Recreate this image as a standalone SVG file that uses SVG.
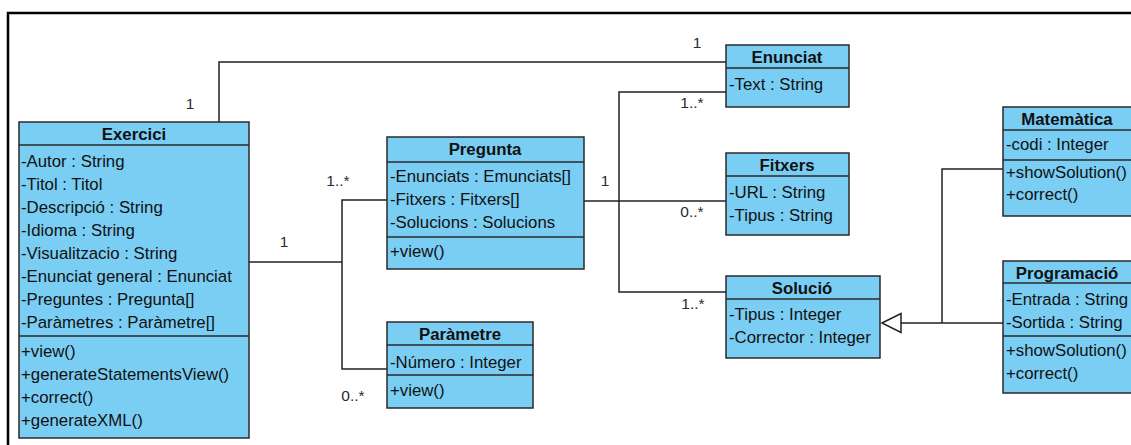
<svg xmlns="http://www.w3.org/2000/svg" width="1131" height="445" viewBox="0 0 1131 445">
  <style>
    .box { fill: #7acdf3; stroke: #2a2a2a; stroke-width: 1.5; }
    .sep { stroke: #2a2a2a; stroke-width: 1.5; }
    .title { font-family: "Liberation Sans", Arial, sans-serif; font-size: 16.8px; font-weight: bold; fill: #111; text-anchor: middle; }
    .item { font-family: "Liberation Sans", Arial, sans-serif; font-size: 16.8px; fill: #111; }
    .mult { font-family: "Liberation Sans", Arial, sans-serif; font-size: 15.5px; fill: #2b2b2b; text-anchor: middle; }
    .edge { fill: none; stroke: #222; stroke-width: 1.5; }
  </style>

  <rect width="1131" height="445" fill="#ffffff"/>
  <!-- diagram frame -->
  <rect x="8" y="13" width="1200" height="500" fill="none" stroke="#000" stroke-width="2.5"/>

  <g id="connectors">
    <!-- Exercici - Enunciat -->
    <polyline class="edge" points="219,122 219,62 726,62"/>
    <!-- Pregunta - Enunciat / Fitxers / Solució -->
    <polyline class="edge" points="726,92 619,92 619,292 726,292"/>
    <line class="edge" x1="584" y1="201" x2="726" y2="201"/>
    <!-- Exercici - Pregunta / Paràmetre -->
    <line class="edge" x1="249" y1="262" x2="342" y2="262"/>
    <polyline class="edge" points="387,200 342,200 342,369 387,369"/>
    <!-- generalization to Solució -->
    <polyline class="edge" points="1003,169 942,169 942,323"/>
    <line class="edge" x1="1003" y1="323" x2="901" y2="323"/>
    <polygon points="882,323 901,313.5 901,332.5" fill="#fff" stroke="#222" stroke-width="1.5"/>

    <text class="mult" x="190" y="109">1</text>
    <text class="mult" x="697" y="48">1</text>
    <text class="mult" x="692" y="108">1..*</text>
    <text class="mult" x="605" y="186">1</text>
    <text class="mult" x="692" y="217">0..*</text>
    <text class="mult" x="693" y="309">1..*</text>
    <text class="mult" x="338" y="186">1..*</text>
    <text class="mult" x="284" y="247">1</text>
    <text class="mult" x="353" y="401">0..*</text>
  </g>

  <g id="exercici">
    <rect class="box" x="19" y="122" width="230" height="316"/>
    <line class="sep" x1="19" y1="145" x2="249" y2="145"/>
    <line class="sep" x1="19" y1="336" x2="249" y2="336"/>
    <text class="title" x="134" y="140">Exercici</text>
    <text class="item" x="21" y="167">-Autor : String</text>
    <text class="item" x="21" y="190">-Titol : Titol</text>
    <text class="item" x="21" y="213">-Descripció : String</text>
    <text class="item" x="21" y="236">-Idioma : String</text>
    <text class="item" x="21" y="259">-Visualitzacio : String</text>
    <text class="item" x="21" y="282">-Enunciat general : Enunciat</text>
    <text class="item" x="21" y="305">-Preguntes : Pregunta[]</text>
    <text class="item" x="21" y="328">-Paràmetres : Paràmetre[]</text>
    <text class="item" x="21" y="357">+view()</text>
    <text class="item" x="21" y="380">+generateStatementsView()</text>
    <text class="item" x="21" y="403">+correct()</text>
    <text class="item" x="21" y="426">+generateXML()</text>
  </g>

  <g id="pregunta">
    <rect class="box" x="387" y="137" width="197" height="132"/>
    <line class="sep" x1="387" y1="162" x2="584" y2="162"/>
    <line class="sep" x1="387" y1="237" x2="584" y2="237"/>
    <text class="title" x="485" y="155">Pregunta</text>
    <text class="item" x="390" y="182">-Enunciats : Emunciats[]</text>
    <text class="item" x="390" y="205">-Fitxers : Fitxers[]</text>
    <text class="item" x="390" y="228">-Solucions : Solucions</text>
    <text class="item" x="390" y="257">+view()</text>
  </g>

  <g id="parametre">
    <rect class="box" x="387" y="322" width="146" height="86"/>
    <line class="sep" x1="387" y1="345" x2="533" y2="345"/>
    <line class="sep" x1="387" y1="375" x2="533" y2="375"/>
    <text class="title" x="460" y="340">Paràmetre</text>
    <text class="item" x="390" y="368">-Número : Integer</text>
    <text class="item" x="390" y="396">+view()</text>
  </g>

  <g id="enunciat">
    <rect class="box" x="726" y="45" width="123" height="62"/>
    <line class="sep" x1="726" y1="68" x2="849" y2="68"/>
    <text class="title" x="787" y="63">Enunciat</text>
    <text class="item" x="729" y="90">-Text : String</text>
  </g>

  <g id="fitxers">
    <rect class="box" x="726" y="153" width="123" height="82"/>
    <line class="sep" x1="726" y1="176" x2="849" y2="176"/>
    <text class="title" x="787" y="171">Fitxers</text>
    <text class="item" x="729" y="198">-URL : String</text>
    <text class="item" x="729" y="221">-Tipus : String</text>
  </g>

  <g id="solucio">
    <rect class="box" x="726" y="276" width="154" height="82"/>
    <line class="sep" x1="726" y1="299" x2="880" y2="299"/>
    <text class="title" x="802" y="294">Solució</text>
    <text class="item" x="729" y="320">-Tipus : Integer</text>
    <text class="item" x="729" y="343">-Corrector : Integer</text>
  </g>

  <g id="matematica">
    <rect class="box" x="1003" y="107" width="140" height="109"/>
    <line class="sep" x1="1003" y1="130" x2="1143" y2="130"/>
    <line class="sep" x1="1003" y1="160" x2="1143" y2="160"/>
    <text class="title" x="1067" y="125">Matemàtica</text>
    <text class="item" x="1006" y="150">-codi : Integer</text>
    <text class="item" x="1006" y="178">+showSolution()</text>
    <text class="item" x="1006" y="200">+correct()</text>
  </g>

  <g id="programacio">
    <rect class="box" x="1003" y="261" width="140" height="132"/>
    <line class="sep" x1="1003" y1="283" x2="1143" y2="283"/>
    <line class="sep" x1="1003" y1="336" x2="1143" y2="336"/>
    <text class="title" x="1067" y="279">Programació</text>
    <text class="item" x="1006" y="305">-Entrada : String</text>
    <text class="item" x="1006" y="328">-Sortida : String</text>
    <text class="item" x="1006" y="356">+showSolution()</text>
    <text class="item" x="1006" y="379">+correct()</text>
  </g>
</svg>
